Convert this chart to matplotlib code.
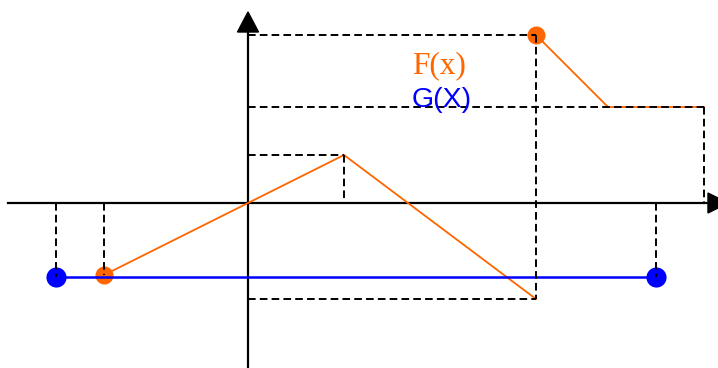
import matplotlib
matplotlib.use("Agg")
import matplotlib.pyplot as plt
from matplotlib.patches import Polygon

plt.rcParams['lines.scale_dashes'] = False

ORANGE = '#ff6600'
BLUE = '#0000ff'

# piecewise function F(x)
f1_x = [-3, 0, 2, 6]
f1_y = [-1.5, 0, 1, -2]
f2_x = [6, 7.5, 9.5]
f2_y = [3.5, 2, 2]
f_dots_x = [-3, 6]
f_dots_y = [-1.5, 3.5]

# constant G(X)
g_x = [-4, 8.5]
g_y = [-1.55, -1.55]

# dashed guide lines
guides_h = [(0, 3.5, 6), (0, 2, 9.5), (0, 1, 2), (0, -2, 6)]
guides_v = [(-4, 0, -1.55), (-3, 0, -1.5), (2, 1, 0), (6, 3.5, -2),
            (9.5, 2, 0), (8.5, 0, -1.55)]

fig = plt.figure(figsize=(7.18, 3.68), dpi=100)
ax = fig.add_axes([0, 0, 1, 1])
ax.set_xlim(-248 / 48, 470 / 48)
ax.set_ylim(-165 / 48, 203 / 48)
ax.axis('off')

# axes with arrows
ax.plot([-5, 9.7], [0, 0], color='black', lw=1.6, zorder=2)
ax.plot([0, 0], [-3.5, 3.6], color='black', lw=1.6, zorder=2)
ax.add_patch(Polygon([[-0.219, 3.5625], [0.219, 3.5625], [0, 3.98]],
                     closed=True, color='black', zorder=2))
ax.add_patch(Polygon([[9.583, -0.208], [9.583, 0.208], [10.0, 0]],
                     closed=True, color='black', zorder=2))

# F(x)
ax.plot(f1_x, f1_y, color=ORANGE, lw=1.3, zorder=3)
ax.plot(f2_x, f2_y, color=ORANGE, lw=1.3, zorder=3)
ax.plot(f_dots_x, f_dots_y, 'o', color=ORANGE, ms=13, mew=0, zorder=3)

# G(X)
ax.plot(g_x, g_y, color=BLUE, lw=1.8, zorder=4)
ax.plot(g_x, g_y, 'o', color=BLUE, ms=14.5, mew=0, zorder=4)

# guides
for x0, y, x1 in guides_h:
    ax.plot([x0, x1], [y, y], color='black', lw=1.4,
            linestyle=(0, (5.5, 3)), zorder=5)
for x, y0, y1 in guides_v:
    ax.plot([x, x], [y0, y1], color='black', lw=1.4,
            linestyle=(0, (5.5, 3)), zorder=5)

ax.text(3.417, 2.708, 'F(x)', color=ORANGE, fontsize=22.5,
        family='Liberation Serif', va='baseline', ha='left', zorder=6)
ax.text(3.417, 2.0, 'G(X)', color=BLUE, fontsize=20.5,
        family='Liberation Sans', va='baseline', ha='left', zorder=6)

fig.savefig('out.png', dpi=100)
